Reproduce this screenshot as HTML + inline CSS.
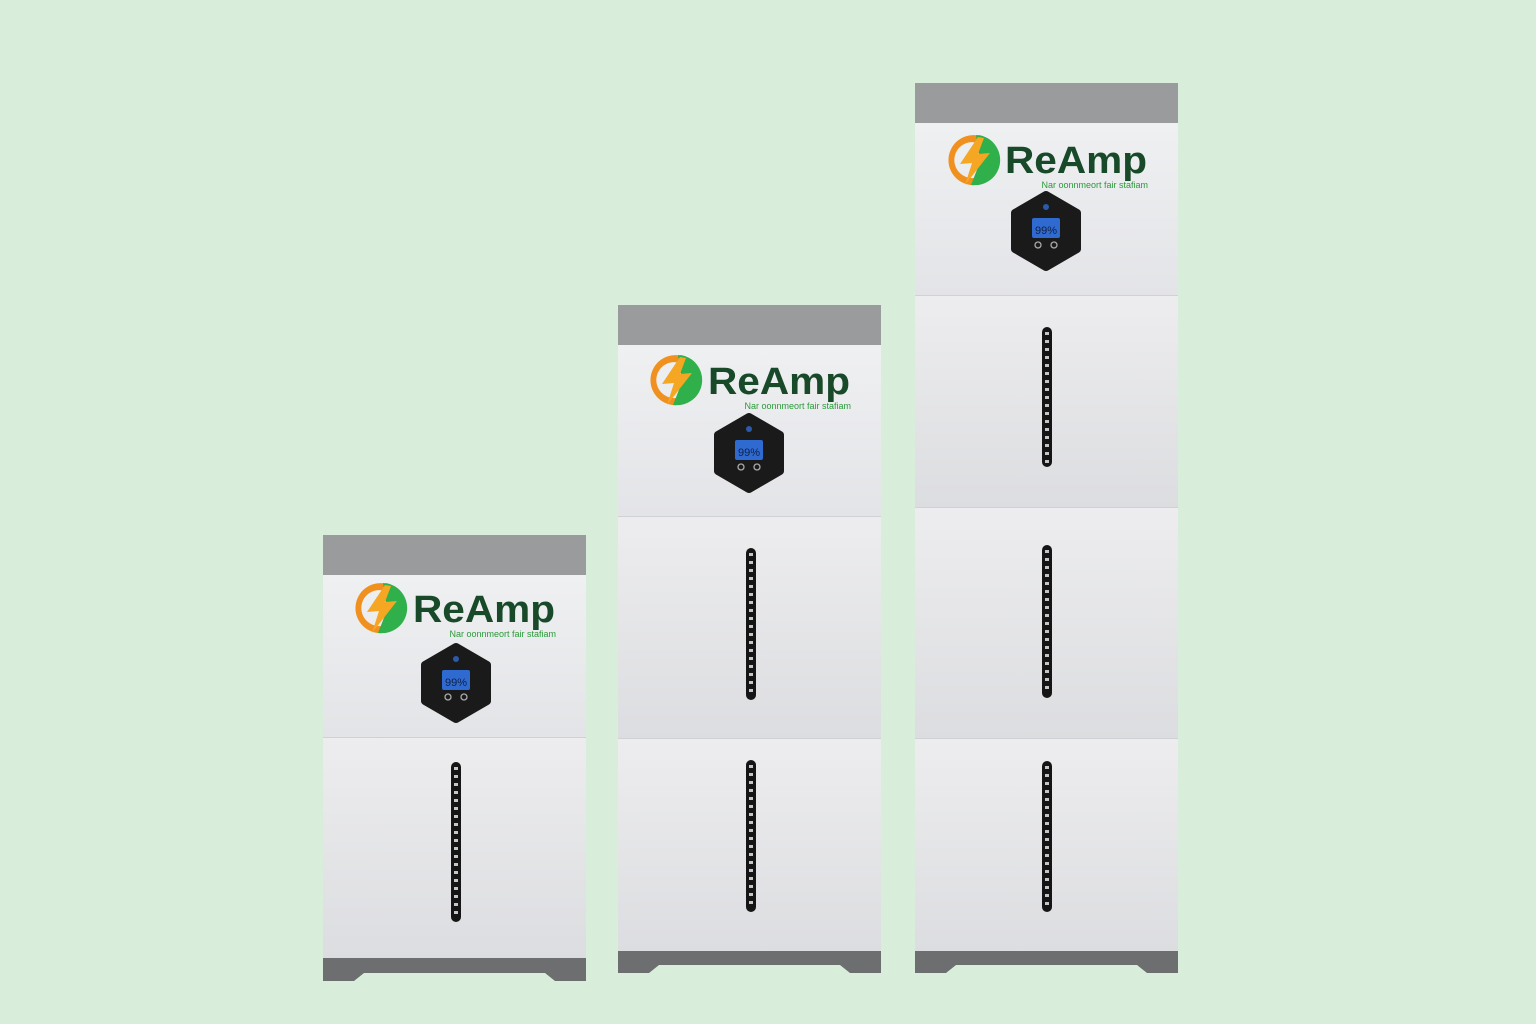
<!DOCTYPE html>
<html><head><meta charset="utf-8"><style>
html,body{margin:0;padding:0;background:#d8eedb;}
svg{display:block}
text{font-family:"Liberation Sans",sans-serif}
</style></head><body>
<svg width="1536" height="1024" viewBox="0 0 1536 1024" xmlns="http://www.w3.org/2000/svg">
<defs>
<linearGradient id="pan" x1="0" y1="0" x2="0" y2="1">
<stop offset="0" stop-color="#eff0f2"/><stop offset="1" stop-color="#e3e4e7"/></linearGradient>
<linearGradient id="mod" x1="0" y1="0" x2="0" y2="1">
<stop offset="0" stop-color="#ededef"/><stop offset="1" stop-color="#dcdde0"/></linearGradient>
<g id="logo">
<path d="M6,-24 A25,25 0 1 0 2,25 L0,18 A18,18 0 1 1 4,-17 Z" fill="#f0901e"/>
<path d="M2,-25 A25,25 0 0 1 -3,25 L6,2 Z" fill="#2fb04a"/>
<path d="M4,-25 A25,25 0 0 1 -2,25 L8,-2 L16,-6 Z" fill="#2fb04a"/>
<polygon points="4,-23 -14,4 -2,3 -9,25 16,-7 4,-6 10,-22" fill="#f5a623"/>
</g>
<g id="hex">
<polygon points="0,-36 31,-18 31,18 0,36 -31,18 -31,-18" fill="#1a1a1a" stroke="#1a1a1a" stroke-width="8" stroke-linejoin="round"/>
<rect x="-14" y="-13" width="28" height="20" rx="2" fill="#2f6ad0"/>
<circle cx="0" cy="-24" r="3" fill="#2f6ad0" opacity=".8"/>
<circle cx="-8" cy="14" r="3" fill="none" stroke="#aaa" stroke-width="1.3"/>
<circle cx="8" cy="14" r="3" fill="none" stroke="#aaa" stroke-width="1.3"/>
</g>
</defs>

<!-- Unit A -->
<g>
<rect x="323" y="535" width="263" height="40" fill="#9a9b9c"/>
<rect x="323" y="575" width="263" height="162" fill="url(#pan)"/>
<rect x="323" y="737" width="263" height="221" fill="url(#mod)"/>
<line x1="323" y1="737.5" x2="586" y2="737.5" stroke="#d0d1d4"/>
<path d="M323,958 H586 V981 H555 L545,973 H364 L354,981 H323 Z" fill="#6c6e70"/>
<use href="#logo" x="381" y="608"/>
<text x="413" y="622" font-size="38" font-weight="bold" fill="#184a2a" textLength="142" lengthAdjust="spacingAndGlyphs">ReAmp</text>
<text x="556" y="637" font-size="9" fill="#2a9a3a" text-anchor="end">Nar oonnmeort fair stafiam</text>
<use href="#hex" x="456" y="683"/>
<text x="456" y="686" font-size="11" fill="#10204a" text-anchor="middle">99%</text>
<rect x="451" y="762" width="10" height="160" rx="5" fill="#151515"/>
<line x1="456" y1="767" x2="456" y2="918" stroke="#c4c6c8" stroke-width="4" stroke-dasharray="3 5"/>
</g>

<!-- Unit B -->
<g>
<rect x="618" y="305" width="263" height="40" fill="#9a9b9c"/>
<rect x="618" y="345" width="263" height="171" fill="url(#pan)"/>
<rect x="618" y="516" width="263" height="222" fill="url(#mod)"/>
<rect x="618" y="738" width="263" height="213" fill="url(#mod)"/>
<line x1="618" y1="516.5" x2="881" y2="516.5" stroke="#d0d1d4"/>
<line x1="618" y1="738.5" x2="881" y2="738.5" stroke="#d0d1d4"/>
<path d="M618,951 H881 V973 H850 L840,965 H659 L649,973 H618 Z" fill="#6c6e70"/>
<use href="#logo" x="676" y="380"/>
<text x="708" y="394" font-size="38" font-weight="bold" fill="#184a2a" textLength="142" lengthAdjust="spacingAndGlyphs">ReAmp</text>
<text x="851" y="409" font-size="9" fill="#2a9a3a" text-anchor="end">Nar oonnmeort fair stafiam</text>
<use href="#hex" x="749" y="453"/>
<text x="749" y="456" font-size="11" fill="#10204a" text-anchor="middle">99%</text>
<rect x="746" y="548" width="10" height="152" rx="5" fill="#151515"/>
<line x1="751" y1="553" x2="751" y2="696" stroke="#c4c6c8" stroke-width="4" stroke-dasharray="3 5"/>
<rect x="746" y="760" width="10" height="152" rx="5" fill="#151515"/>
<line x1="751" y1="765" x2="751" y2="908" stroke="#c4c6c8" stroke-width="4" stroke-dasharray="3 5"/>
</g>

<!-- Unit C -->
<g>
<rect x="915" y="83" width="263" height="40" fill="#9a9b9c"/>
<rect x="915" y="123" width="263" height="172" fill="url(#pan)"/>
<rect x="915" y="295" width="263" height="212" fill="url(#mod)"/>
<rect x="915" y="507" width="263" height="231" fill="url(#mod)"/>
<rect x="915" y="738" width="263" height="213" fill="url(#mod)"/>
<line x1="915" y1="295.5" x2="1178" y2="295.5" stroke="#d0d1d4"/>
<line x1="915" y1="507.5" x2="1178" y2="507.5" stroke="#d0d1d4"/>
<line x1="915" y1="738.5" x2="1178" y2="738.5" stroke="#d0d1d4"/>
<path d="M915,951 H1178 V973 H1147 L1137,965 H956 L946,973 H915 Z" fill="#6c6e70"/>
<use href="#logo" x="974" y="160"/>
<text x="1005" y="173" font-size="38" font-weight="bold" fill="#184a2a" textLength="142" lengthAdjust="spacingAndGlyphs">ReAmp</text>
<text x="1148" y="188" font-size="9" fill="#2a9a3a" text-anchor="end">Nar oonnmeort fair stafiam</text>
<use href="#hex" x="1046" y="231"/>
<text x="1046" y="234" font-size="11" fill="#10204a" text-anchor="middle">99%</text>
<rect x="1042" y="327" width="10" height="140" rx="5" fill="#151515"/>
<line x1="1047" y1="332" x2="1047" y2="463" stroke="#c4c6c8" stroke-width="4" stroke-dasharray="3 5"/>
<rect x="1042" y="545" width="10" height="153" rx="5" fill="#151515"/>
<line x1="1047" y1="550" x2="1047" y2="694" stroke="#c4c6c8" stroke-width="4" stroke-dasharray="3 5"/>
<rect x="1042" y="761" width="10" height="151" rx="5" fill="#151515"/>
<line x1="1047" y1="766" x2="1047" y2="908" stroke="#c4c6c8" stroke-width="4" stroke-dasharray="3 5"/>
</g>
</svg>
</body></html>
